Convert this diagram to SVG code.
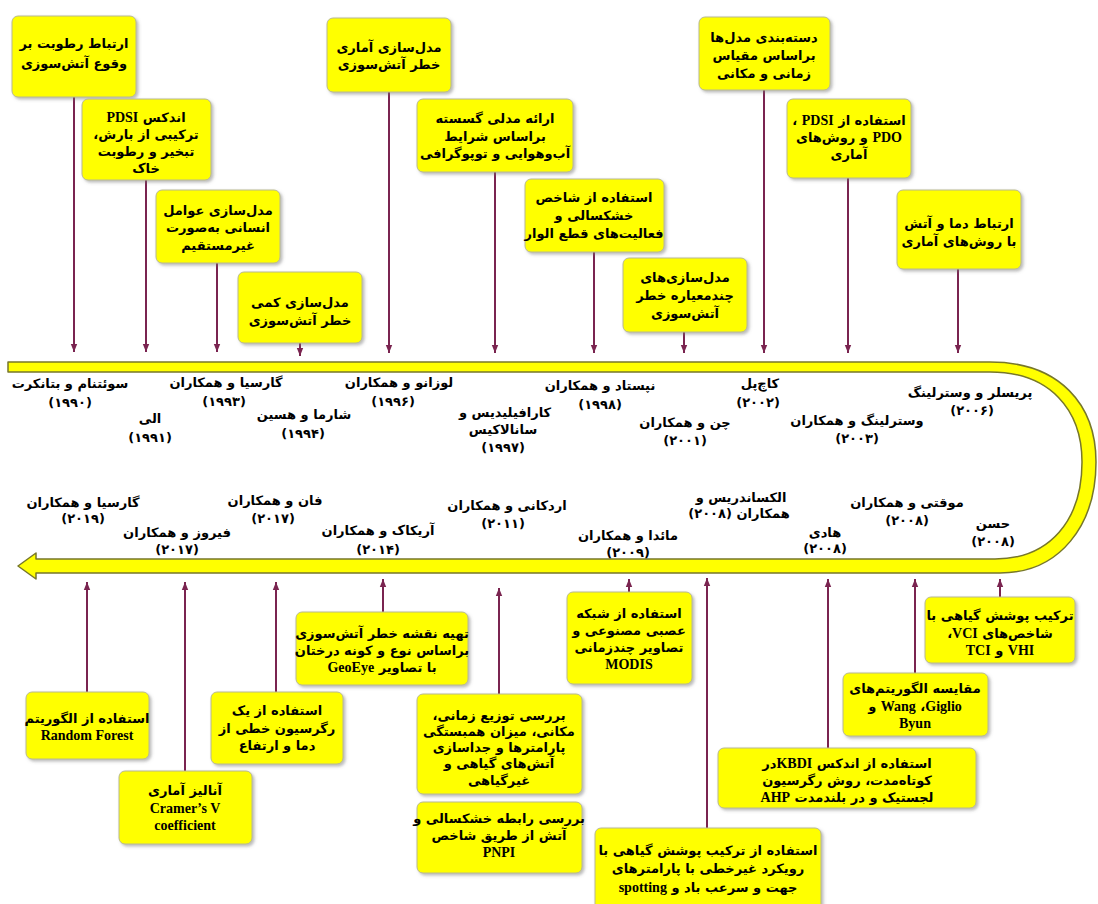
<svg xmlns="http://www.w3.org/2000/svg" width="1098" height="904" viewBox="0 0 1098 904">
<style>
.box{fill:#ffff00;stroke:#b8b890;stroke-width:1;filter:url(#sh)}
.t{font-family:"DejaVu Sans",sans-serif;font-weight:bold;font-size:13px;text-anchor:middle;direction:rtl;fill:#000}
.a{font-family:"DejaVu Sans",sans-serif;font-weight:bold;font-size:13px;text-anchor:middle;direction:rtl;fill:#000}
.l{font-family:"Liberation Serif",serif;font-weight:bold;font-size:14px}
.c{stroke:#7a2450;stroke-width:2;fill:none}
.dn{marker-end:url(#ar)}
</style>
<defs>
<filter id="sh" x="-10%" y="-10%" width="130%" height="140%">
<feDropShadow dx="2" dy="2" stdDeviation="1.5" flood-color="#777" flood-opacity="0.5"/>
</filter>
<marker id="ar" viewBox="0 0 8 8" refX="8" refY="4" markerWidth="8" markerHeight="8" markerUnits="userSpaceOnUse" orient="auto">
<path d="M0,0.8 L8,4 L0,7.2 z" fill="#7a2450"/>
</marker>
</defs>
<rect width="1098" height="904" fill="#ffffff"/>

<g id="timeline">
<path d="M8,362 L990,362 C1060,362 1096,405 1096,462 C1096,525 1060,573 1000,573 L36,573 L36,579 L18,566 L36,553 L36,559 L995,559 C1050,559 1082,520 1082,462 C1082,410 1050,372 990,372 L8,372 Z" fill="#ffff00" stroke="#77772a" stroke-width="1.5" stroke-linejoin="round"/>
</g>

<g id="connectors">
<line class="c dn" x1="74" y1="97" x2="74" y2="352"/>
<line class="c dn" x1="146" y1="180" x2="146" y2="352"/>
<line class="c dn" x1="217" y1="263" x2="217" y2="352"/>
<line class="c dn" x1="300" y1="343" x2="300" y2="356"/>
<line class="c dn" x1="389" y1="92" x2="389" y2="353"/>
<line class="c dn" x1="495" y1="172" x2="495" y2="353"/>
<line class="c dn" x1="594" y1="252" x2="594" y2="353"/>
<line class="c dn" x1="684" y1="332" x2="684" y2="353"/>
<line class="c dn" x1="764" y1="90" x2="764" y2="353"/>
<line class="c dn" x1="848" y1="178" x2="848" y2="353"/>
<line class="c dn" x1="958" y1="269" x2="958" y2="353"/>

<line class="c dn" x1="87" y1="692" x2="87" y2="582"/>
<line class="c dn" x1="185" y1="771" x2="185" y2="582"/>
<line class="c dn" x1="276" y1="692" x2="276" y2="582"/>
<line class="c dn" x1="383" y1="612" x2="383" y2="579"/>
<line class="c dn" x1="499" y1="694" x2="499" y2="588"/>
<line class="c dn" x1="629" y1="592" x2="629" y2="579"/>
<line class="c dn" x1="707" y1="828" x2="707" y2="578"/>
<line class="c dn" x1="828" y1="748" x2="828" y2="579"/>
<line class="c dn" x1="915" y1="673" x2="915" y2="579"/>
<line class="c dn" x1="1000" y1="597" x2="1000" y2="579"/>
</g>

<!-- top boxes -->
<g id="n1"><rect class="box" x="12" y="16" width="124" height="81" rx="6"/>
<text class="t" x="74" y="48">ارتباط رطوبت بر</text>
<text class="t" x="74" y="68">وقوع آتش&#x200C;سوزی</text></g>

<g id="n2"><rect class="box" x="82" y="99" width="129" height="81" rx="6"/>
<text class="t" x="146" y="122">اندکس <tspan class="l">PDSI</tspan></text>
<text class="t" x="146" y="139">ترکیبی از بارش،</text>
<text class="t" x="146" y="156">تبخیر و رطوبت</text>
<text class="t" x="146" y="173">خاک</text></g>

<g id="n3"><rect class="box" x="156" y="190" width="124" height="73" rx="6"/>
<text class="t" x="218" y="215">مدل&#x200C;سازی عوامل</text>
<text class="t" x="218" y="232">انسانی به&#x200C;صورت</text>
<text class="t" x="218" y="250">غیرمستقیم</text></g>

<g id="n4"><rect class="box" x="238" y="272" width="124" height="71" rx="6"/>
<text class="t" x="300" y="307">مدل&#x200C;سازی کمی</text>
<text class="t" x="300" y="325">خطر آتش&#x200C;سوزی</text></g>

<g id="n5"><rect class="box" x="327" y="18" width="124" height="74" rx="6"/>
<text class="t" x="389" y="52">مدل&#x200C;سازی آماری</text>
<text class="t" x="389" y="69">خطر آتش&#x200C;سوزی</text></g>

<g id="n6"><rect class="box" x="417" y="99" width="156" height="73" rx="6"/>
<text class="t" x="495" y="123">ارائه مدلی گسسته</text>
<text class="t" x="495" y="141">براساس شرایط</text>
<text class="t" x="495" y="158">آب&#x200C;وهوایی و توپوگرافی</text></g>

<g id="n7"><rect class="box" x="525" y="179" width="139" height="73" rx="6"/>
<text class="t" x="594" y="202">استفاده از شاخص</text>
<text class="t" x="594" y="220">خشکسالی و</text>
<text class="t" x="594" y="238">فعالیت&#x200C;های قطع الوار</text></g>

<g id="n8"><rect class="box" x="623" y="258" width="124" height="74" rx="6"/>
<text class="t" x="685" y="282">مدل&#x200C;سازی&#x200C;های</text>
<text class="t" x="685" y="300">چندمعیاره خطر</text>
<text class="t" x="685" y="318">آتش&#x200C;سوزی</text></g>

<g id="n9"><rect class="box" x="699" y="17" width="131" height="73" rx="6"/>
<text class="t" x="764" y="42">دسته&#x200C;بندی مدل&#x200C;ها</text>
<text class="t" x="764" y="60">براساس مقیاس</text>
<text class="t" x="764" y="78">زمانی و مکانی</text></g>

<g id="n10"><rect class="box" x="787" y="99" width="124" height="79" rx="6"/>
<text class="t" x="849" y="125">استفاده از <tspan class="l">PDSI</tspan> ،</text>
<text class="t" x="849" y="142"><tspan class="l">PDO</tspan> و روش&#x200C;های</text>
<text class="t" x="849" y="159">آماری</text></g>

<g id="n11"><rect class="box" x="897" y="190" width="124" height="79" rx="6"/>
<text class="t" x="959" y="228">ارتباط دما و آتش</text>
<text class="t" x="959" y="246">با روش&#x200C;های آماری</text></g>

<!-- bottom boxes -->
<g id="b1"><rect class="box" x="26" y="692" width="123" height="67" rx="6"/>
<text class="t" x="87" y="723">استفاده از الگوریتم</text>
<text class="t" x="87" y="740"><tspan class="l">Random Forest</tspan></text></g>

<g id="b2"><rect class="box" x="119" y="771" width="133" height="73" rx="6"/>
<text class="t" x="185" y="795">آنالیز آماری</text>
<text class="t" x="185" y="813" style="direction:ltr"><tspan class="l">Cramer’s V</tspan></text>
<text class="t" x="185" y="830" style="direction:ltr"><tspan class="l">coefficient</tspan></text></g>

<g id="b3"><rect class="box" x="211" y="692" width="132" height="72" rx="6"/>
<text class="t" x="277" y="715">استفاده از یک</text>
<text class="t" x="277" y="733">رگرسیون خطی از</text>
<text class="t" x="277" y="750">دما و ارتفاع</text></g>

<g id="b4"><rect class="box" x="296" y="612" width="172" height="73" rx="6"/>
<text class="t" x="382" y="638">تهیه نقشه خطر آتش&#x200C;سوزی</text>
<text class="t" x="382" y="655">براساس نوع و کونه درختان</text>
<text class="t" x="382" y="672">با تصاویر <tspan class="l">GeoEye</tspan></text></g>

<g id="b5"><rect class="box" x="417" y="694" width="165" height="100" rx="6"/>
<text class="t" x="499" y="720">بررسی توزیع زمانی،</text>
<text class="t" x="499" y="736">مکانی، میزان همبستگی</text>
<text class="t" x="499" y="752">پارامترها و جداسازی</text>
<text class="t" x="499" y="768">آتش&#x200C;های گیاهی و</text>
<text class="t" x="499" y="785">غیرگیاهی</text></g>

<g id="b6"><rect class="box" x="417" y="802" width="165" height="71" rx="6"/>
<text class="t" x="499" y="823">بررسی رابطه خشکسالی و</text>
<text class="t" x="499" y="840">آتش از طریق شاخص</text>
<text class="t" x="499" y="857"><tspan class="l">PNPI</tspan></text></g>

<g id="b7"><rect class="box" x="567" y="592" width="125" height="92" rx="6"/>
<text class="t" x="629" y="618">استفاده از شبکه</text>
<text class="t" x="629" y="635">عصبی مصنوعی و</text>
<text class="t" x="629" y="652">تصاویر چندزمانی</text>
<text class="t" x="629" y="669"><tspan class="l">MODIS</tspan></text></g>

<g id="b8"><rect class="box" x="595" y="828" width="226" height="84" rx="6"/>
<text class="t" x="708" y="855">استفاده از ترکیب پوشش گیاهی با</text>
<text class="t" x="708" y="873">رویکرد غیرخطی با پارامترهای</text>
<text class="t" x="708" y="892">جهت و سرعب باد و <tspan class="l">spotting</tspan></text></g>

<g id="b9"><rect class="box" x="718" y="748" width="258" height="60" rx="6"/>
<text class="t" x="847" y="768">استفاده از اندکس <tspan class="l">KBDI</tspan>در</text>
<text class="t" x="847" y="785">کوتاه&#x200C;مدت، روش رگرسیون</text>
<text class="t" x="847" y="802">لجستیک و در بلندمدت <tspan class="l">AHP</tspan></text></g>

<g id="b10"><rect class="box" x="843" y="673" width="145" height="63" rx="6"/>
<text class="t" x="915" y="693">مقایسه الگوریتم&#x200C;های</text>
<text class="t" x="915" y="711"><tspan class="l">Giglio</tspan>،&#x200F; <tspan class="l">Wang</tspan> و</text>
<text class="t" x="915" y="728"><tspan class="l">Byun</tspan></text></g>

<g id="b11"><rect class="box" x="925" y="597" width="150" height="66" rx="6"/>
<text class="t" x="1000" y="620">ترکیب پوشش گیاهی با</text>
<text class="t" x="1000" y="638">شاخص&#x200C;های  <tspan class="l">VCI</tspan>،</text>
<text class="t" x="1000" y="655"><tspan class="l">VHI</tspan> و <tspan class="l">TCI</tspan></text></g>

<!-- year labels top -->
<g id="y1"><text class="a" x="70" y="388">سوئتنام و بتانکرت</text><text class="a" x="70" y="407">(۱۹۹۰)</text></g>
<g id="y2"><text class="a" x="150" y="423">الی</text><text class="a" x="150" y="442">(۱۹۹۱)</text></g>
<g id="y3"><text class="a" x="226" y="387">گارسیا و همکاران</text><text class="a" x="224" y="406">(۱۹۹۳)</text></g>
<g id="y4"><text class="a" x="304" y="419">شارما و هسین</text><text class="a" x="303" y="438">(۱۹۹۴)</text></g>
<g id="y5"><text class="a" x="399" y="387">لوزانو و همکاران</text><text class="a" x="393" y="406">(۱۹۹۶)</text></g>
<g id="y6"><text class="a" x="505" y="417">کارافیلیدیس و</text><text class="a" x="503" y="434">سانالاکیس</text><text class="a" x="503" y="452">(۱۹۹۷)</text></g>
<g id="y7"><text class="a" x="600" y="390">نپستاد و همکاران</text><text class="a" x="600" y="409">(۱۹۹۸)</text></g>
<g id="y8"><text class="a" x="685" y="427">چن و همکاران</text><text class="a" x="685" y="445">(۲۰۰۱)</text></g>
<g id="y9"><text class="a" x="760" y="388">کاچ&#x200C;پل</text><text class="a" x="758" y="407">(۲۰۰۲)</text></g>
<g id="y10"><text class="a" x="857" y="425">وسترلینگ و همکاران</text><text class="a" x="857" y="443">(۲۰۰۳)</text></g>
<g id="y11"><text class="a" x="970" y="397">پریسلر و وسترلینگ</text><text class="a" x="972" y="415">(۲۰۰۶)</text></g>
<!-- year labels bottom -->
<g id="y12"><text class="a" x="993" y="528">حسن</text><text class="a" x="993" y="546">(۲۰۰۸)</text></g>
<g id="y13"><text class="a" x="907" y="507">موقتی و همکاران</text><text class="a" x="907" y="525">(۲۰۰۸)</text></g>
<g id="y14"><text class="a" x="825" y="537">هادی</text><text class="a" x="825" y="553">(۲۰۰۸)</text></g>
<g id="y15"><text class="a" x="741" y="502">الکساندریس و</text><text class="a" x="739" y="518">همکاران (۲۰۰۸)</text></g>
<g id="y16"><text class="a" x="628" y="540">مائدا و همکاران</text><text class="a" x="628" y="557">(۲۰۰۹)</text></g>
<g id="y17"><text class="a" x="507" y="510">اردکانی و همکاران</text><text class="a" x="503" y="528">(۲۰۱۱)</text></g>
<g id="y18"><text class="a" x="378" y="535">آریکاک و همکاران</text><text class="a" x="378" y="554">(۲۰۱۴)</text></g>
<g id="y19"><text class="a" x="275" y="505">فان و همکاران</text><text class="a" x="273" y="523">(۲۰۱۷)</text></g>
<g id="y20"><text class="a" x="177" y="537">فیروز و همکاران</text><text class="a" x="177" y="554">(۲۰۱۷)</text></g>
<g id="y21"><text class="a" x="83" y="507">گارسیا و همکاران</text><text class="a" x="83" y="523">(۲۰۱۹)</text></g>
</svg>
